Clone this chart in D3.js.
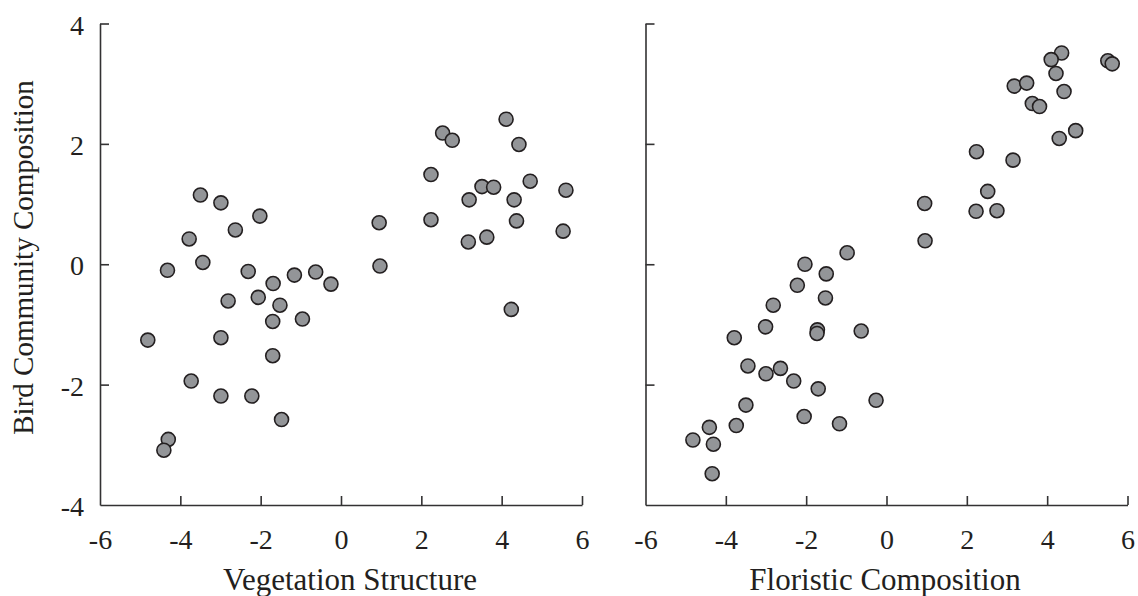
<!DOCTYPE html>
<html>
<head>
<meta charset="utf-8">
<script src="https://cdn.jsdelivr.net/npm/d3@7"></script>
<style>
  html, body { margin: 0; padding: 0; background: #fff; }
  svg { display: block; }
  svg text { font-family: 'Liberation Serif', 'Times New Roman', serif !important; fill: #231f20; }
</style>
</head>
<body>
<svg id="chart" width="1138" height="596"></svg>
<script>
// Panel 1: Vegetation Structure vs Bird Community Composition
const vegX = [-3.50, -2.99, -2.02, -3.78, -2.63, -3.44, -4.32, -2.31, -1.69, -1.16, -0.63, -0.25, 0.95, 0.97,
  -2.81, -2.06, -1.52, -1.70, -0.96, -4.81, -2.99, -1.70, -3.73, -2.99, -2.22, -1.48, -4.30, -4.41,
  2.53, 2.77, 4.11, 4.43, 2.24, 4.71, 5.60, 3.51, 3.80, 3.19, 4.31, 2.24, 4.37, 3.63, 3.17, 5.53, 4.24];
const vegY = [1.15, 1.02, 0.80, 0.42, 0.57, 0.03, -0.10, -0.12, -0.32, -0.18, -0.13, -0.33, 0.69, -0.03,
  -0.61, -0.55, -0.68, -0.95, -0.91, -1.26, -1.22, -1.52, -1.94, -2.19, -2.19, -2.58, -2.91, -3.09,
  2.18, 2.06, 2.41, 1.99, 1.49, 1.38, 1.23, 1.29, 1.28, 1.07, 1.07, 0.74, 0.72, 0.45, 0.37, 0.55, -0.75];

// Panel 2: Floristic Composition vs Bird Community Composition
const florX = [-0.98, -2.03, -1.50, -2.22, -1.52, -2.82, -3.01, -3.79, -1.72, -1.73, -0.63, -3.45, -3.00, -2.64,
  -2.31, -1.70, -0.26, -3.50, -2.05, -1.17, -3.74, -4.41, -4.82, -4.31, -4.34,
  4.36, 4.10, 5.51, 5.62, 4.22, 3.18, 3.49, 4.42, 3.63, 3.81, 4.71, 4.30, 2.24, 3.15, 2.52, 0.95, 2.23, 2.75, 0.96];
const florY = [0.19, 0.00, -0.16, -0.35, -0.56, -0.68, -1.04, -1.22, -1.09, -1.15, -1.11, -1.69, -1.82, -1.73,
  -1.94, -2.07, -2.26, -2.34, -2.53, -2.65, -2.68, -2.71, -2.92, -2.99, -3.48,
  3.51, 3.40, 3.38, 3.33, 3.17, 2.96, 3.01, 2.87, 2.67, 2.62, 2.22, 2.09, 1.87, 1.73, 1.21, 1.01, 0.88, 0.89, 0.39];

const xTicks = [-6, -4, -2, 0, 2, 4, 6];
const yTicks = [-4, -2, 0, 2, 4];
const xTitles = ["Vegetation Structure", "Floristic Composition"];
const yTitle = "Bird Community Composition";

const svg = d3.select("#chart");
const axisColor = "#333233";
const serif = "'Liberation Serif', 'Times New Roman', serif";
const fmt = d => String(d); // plain hyphen-minus like the original

const y = d3.scaleLinear().domain([-4, 4]).range([505, 23.5]);
const panels = [
  { xs: vegX, ys: vegY, range: [100, 582], title: xTitles[0], titleX: 350, yLabels: true },
  { xs: florX, ys: florY, range: [645.5, 1127.5], title: xTitles[1], titleX: 885, yLabels: false }
];

panels.forEach(p => {
  const x = d3.scaleLinear().domain([-6, 6]).range(p.range);
  const g = svg.append("g");

  const ya = d3.axisLeft(y).tickValues(yTicks).tickSizeInner(-9).tickSizeOuter(0).tickPadding(16)
    .tickFormat(p.yLabels ? fmt : () => "");
  const yg = g.append("g").attr("transform", `translate(${p.range[0]},0)`).call(ya);
  const xa = d3.axisBottom(x).tickValues(xTicks).tickSizeInner(-9).tickSizeOuter(0).tickPadding(24.5)
    .tickFormat(fmt);
  const xg = g.append("g").attr("transform", `translate(0,${y(-4)})`).call(xa);

  [yg, xg].forEach(a => {
    a.attr("font-family", serif).attr("font-size", 28);
    a.selectAll("path.domain").attr("stroke", axisColor).attr("stroke-width", 1.6);
    a.selectAll(".tick line").attr("stroke", axisColor).attr("stroke-width", 1.6);
    a.selectAll(".tick text").style("font-family", serif).attr("font-size", 28).attr("fill", "#231f20");
  });
  yg.selectAll(".tick text").attr("dy", "0.38em");
  xg.selectAll(".tick").filter(d => d === -6).select("line").remove();
  yg.selectAll(".tick").filter(d => d === -4).select("line").remove();

  const data = p.xs.map((v, i) => [v, p.ys[i]]);
  g.append("g").selectAll("circle").data(data).join("circle")
    .attr("cx", d => x(d[0]))
    .attr("cy", d => y(d[1]))
    .attr("r", 7)
    .attr("fill", "#939598")
    .attr("stroke", "#231f20")
    .attr("stroke-width", 1.6);

  g.append("text").attr("x", p.titleX).attr("y", 590)
    .attr("text-anchor", "middle").style("font-family", serif).attr("font-size", 31).text(p.title);
});

svg.append("text")
  .attr("transform", "translate(33,257.5) rotate(-90)")
  .attr("text-anchor", "middle").style("font-family", serif).attr("font-size", 29).text(yTitle);
</script>
</body>
</html>
